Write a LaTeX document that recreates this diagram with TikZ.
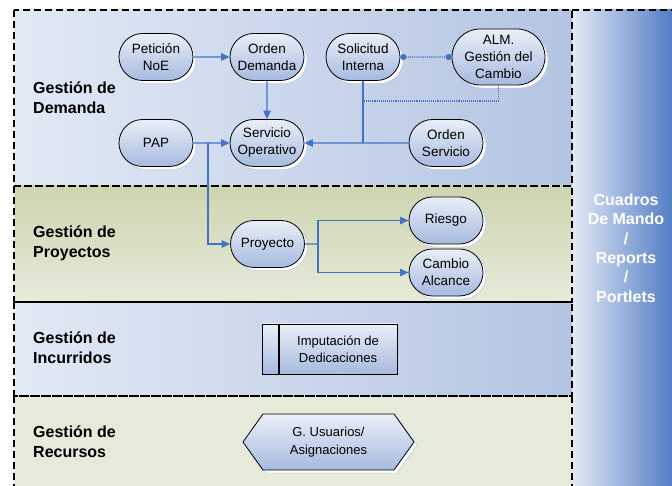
\documentclass[tikz,border=0pt]{standalone}
\usepackage{fontspec}
\setmainfont{Liberation Sans}
\usetikzlibrary{positioning}
\usetikzlibrary{shapes.misc,shapes.symbols}
\usetikzlibrary{arrows.meta,shadows}

\definecolor{lineblue}{RGB}{68,114,196}
\definecolor{demL}{RGB}{226,233,245}
\definecolor{demR}{RGB}{180,197,226}
\definecolor{proL}{RGB}{205,213,176}
\definecolor{proR}{RGB}{230,235,218}
\definecolor{recF}{RGB}{229,234,218}
\definecolor{nodeL}{RGB}{234,239,248}
\definecolor{nodeR}{RGB}{166,186,223}
\definecolor{panelL}{RGB}{228,234,246}
\definecolor{panelM}{RGB}{116,150,209}
\definecolor{panelR}{RGB}{70,116,192}

\tikzset{
    lane/.style={draw=black, line width=2.2pt, dash pattern=on 7pt off 4pt},
    lanelabel/.style={anchor=west, align=left, inner sep=0pt, font=\bfseries\fontsize{16}{20}\selectfont},
    nshadow/.style={copy shadow={shadow xshift=3pt, shadow yshift=-3pt, draw=lineblue!45, fill=white, line width=0.4pt}},
    boxfill/.style={draw=black, line width=0.8pt, top color=nodeL, bottom color=nodeR},
    proc/.style={rounded rectangle, boxfill, minimum width=76pt, minimum height=47pt, inner sep=1pt,
        align=center, font=\fontsize{13.5}{17}\selectfont, nshadow},
    flow/.style={-{Triangle[length=8.5pt,width=7.5pt]}},
}

\begin{document}
\begin{tikzpicture}[x=1pt,y=-1pt]
            \clip (0,0) rectangle (672,486);
            \fill[white] (0,0) rectangle (672,486);

            % lanes
            \shade[left color=demL, right color=demR] (14,10) rectangle (572,186);
            \shade[top color=proL, bottom color=proR] (14,186) rectangle (572,302);
            \shade[left color=demL, right color=demR] (14,302) rectangle (572,396);
            \fill[recF] (14,396) rectangle (572,500);
            \shade[left color=panelL, middle color=panelM, right color=panelR] (572,10) rectangle (680,500);

            \draw[lane] (14,10) rectangle (572,186);
            \draw[lane] (14,186) rectangle (572,302);
            \draw[lane] (14,302) rectangle (572,396);
            \draw[lane] (14,396) rectangle (572,500);
            \draw[lane] (572,10) -- (680,10);

            \node[lanelabel] (ldem) at (33,98) {Gestión de\\Demanda};
            \node[lanelabel] (lpro) at (33,243) {Gestión de\\Proyectos};
            \node[lanelabel] (linc) at (33,348) {Gestión de\\Incurridos};
            \node[lanelabel] (lrec) at (33,442) {Gestión de\\Recursos};
            \node[align=center, text=white, font=\bfseries\fontsize{16}{19.4}\selectfont] (panel) at (626,248)
                {Cuadros\\De Mando\\/\\Reports\\/\\Portlets};

            \begin{scope}[every node/.style={proc}]
                \node (pet) at (156,57) {Petición\\NoE};
                \node (ordd) at (267,57) {Orden\\Demanda};
                \node (sol) at (363,57) {Solicitud\\Interna};
                \node[minimum width=95pt, minimum height=56pt] (alm) at (498.5,57) {ALM.\\Gestión del\\Cambio};
                \node (pap) at (156,143) {PAP};
                \node (serv) at (267,143) {Servicio\\Operativo};
                \node (ords) at (446,143) {Orden\\Servicio};
                \node (proy) at (267.5,244) {Proyecto};
                \node (ries) at (446,220.5) {Riesgo};
                \node (camb) at (446,272.5) {Cambio\\Alcance};
            \end{scope}

            \node[boxfill, minimum width=118pt, minimum height=50pt, inner sep=1pt, align=center,
                font=\fontsize{13}{17}\selectfont] (imp) at (338,349) {Imputación de\\Dedicaciones};
            \node[boxfill, minimum width=16pt, minimum height=50pt, inner sep=0pt, left=0pt of imp] (impbar) {};
            \node[signal, signal to=west and east, signal pointer angle=109, boxfill, minimum width=171pt,
                minimum height=56pt, inner sep=1pt, align=center, font=\fontsize{13}{18}\selectfont, nshadow]
                (usu) at (328.5,442) {G. Usuarios/\\Asignaciones};

            \coordinate (j1) at (208,143);
            \coordinate (j2) at (363,143);
            \coordinate (j3) at (363,101);
            \coordinate (j4) at (318,244);

            \begin{scope}[every edge/.style={draw=lineblue, line width=1.2pt}]
                \path [flow] (pet) edge (ordd);
                \path [flow] (ordd) edge (serv);
                \path [flow] (pap) edge (serv);
                \path [flow] (ords) edge (serv);
                \path [-] (sol) edge (j2);
                \path [-] (proy) edge (j4);
            \end{scope}

            \begin{scope}[draw=lineblue, line width=1.2pt]
                \draw [flow] (j1) |- (proy);
                \draw [flow] (j4) |- (ries);
                \draw [flow] (j4) |- (camb);
            \end{scope}

            \begin{scope}[draw=lineblue, line width=1.1pt, densely dotted]
                \draw [{Circle[length=6pt,fill=lineblue]}-{Circle[length=6pt,fill=lineblue]}] (sol) -- (alm);
                \draw (alm) |- (j3);
            \end{scope}
        \end{tikzpicture}
\end{document}
